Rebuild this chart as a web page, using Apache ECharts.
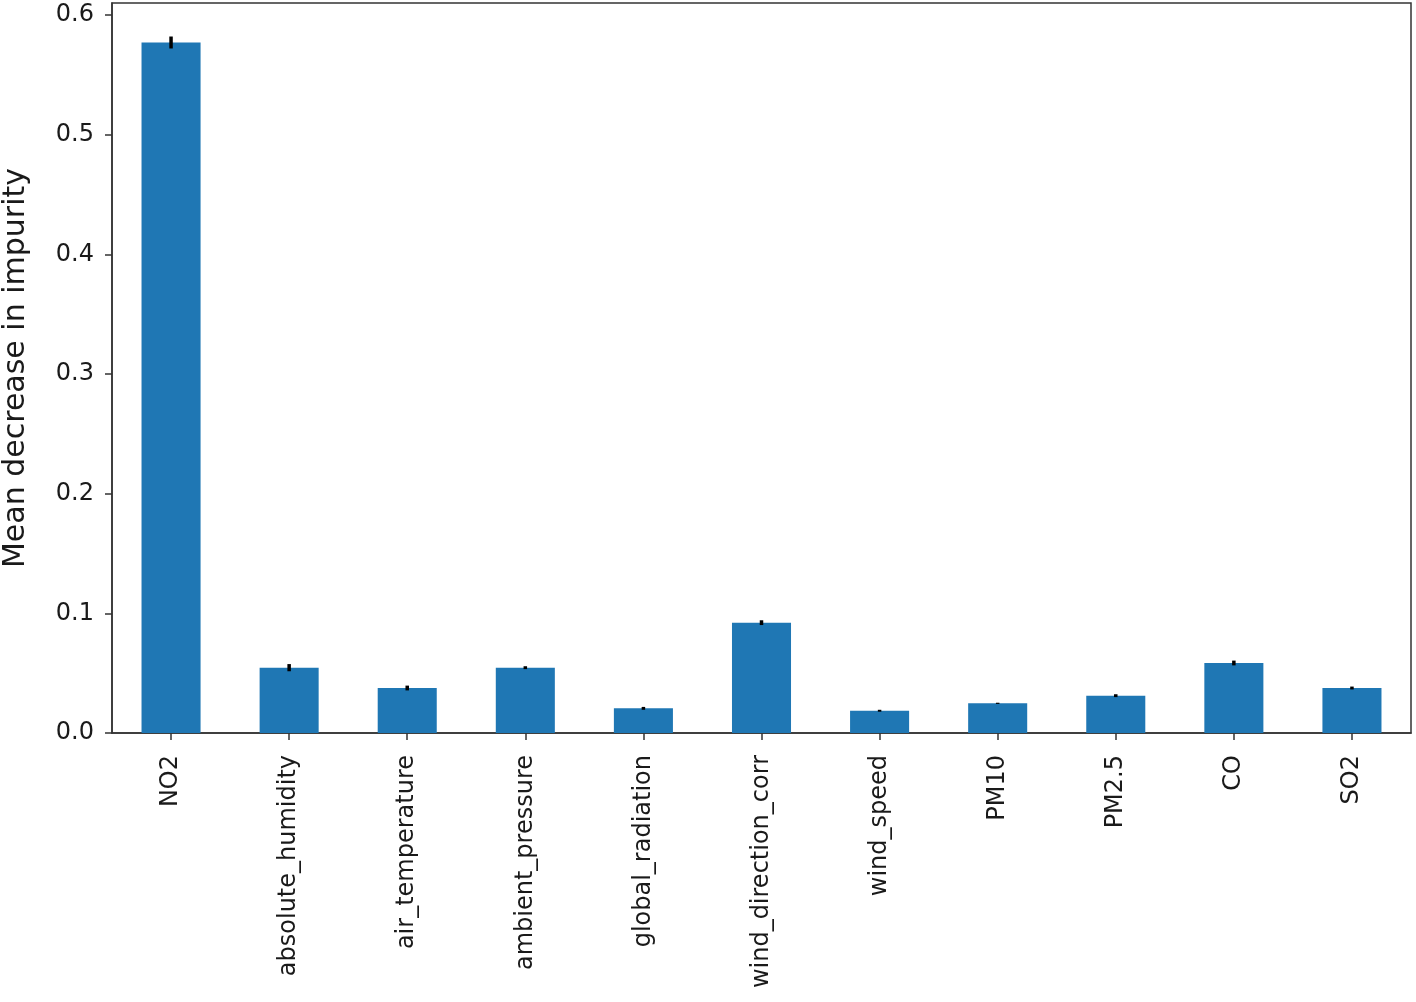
<!DOCTYPE html>
<html>
<head>
<meta charset="utf-8">
<script src="https://cdn.jsdelivr.net/npm/echarts@6/dist/echarts.min.js"></script>
<style>
html,body{margin:0;padding:0;background:#fff;}
#chart{width:1416px;height:1002px;}
</style>
</head>
<body>
<div id="chart"></div>
<script>
const categories = ["NO2","absolute_humidity","air_temperature","ambient_pressure","global_radiation","wind_direction_corr","wind_speed","PM10","PM2.5","CO","SO2"];
const importances = [0.577, 0.0546, 0.0376, 0.0546, 0.0206, 0.0922, 0.0186, 0.0248, 0.0312, 0.0585, 0.0376];
const stdErrors = [0.005, 0.003, 0.002, 0.0012, 0.0012, 0.002, 0.0008, 0.0005, 0.0012, 0.002, 0.0012];
const yTicks = [0.0, 0.1, 0.2, 0.3, 0.4, 0.5, 0.6];
const yLabel = "Mean decrease in impurity";

const chart = echarts.init(document.getElementById('chart'), null, {renderer:'canvas'});
const font = "DejaVu Sans";
const errData = categories.map((c, i) => [i, importances[i], stdErrors[i]]);

chart.setOption({
  animation: false,
  backgroundColor: '#fff',
  grid: {left: 112, right: 5, top: 3, bottom: 269, show: true, borderColor: '#333', borderWidth: 1.5, backgroundColor: 'transparent', containLabel: false, outerBoundsMode: 'none'},
  xAxis: {
    type: 'category',
    data: categories,
    axisLine: {show: true, lineStyle: {color: '#333', width: 1.5}},
    axisTick: {show: true, alignWithLabel: true, length: 7, lineStyle: {color: '#333', width: 1.5}},
    axisLabel: {rotate: 90, margin: 22, color: '#1a1a1a', fontFamily: font, fontSize: 24, interval: 0},
    splitLine: {show: false}
  },
  yAxis: {
    type: 'value',
    min: 0, max: 0.61, interval: 0.1,
    name: yLabel,
    nameLocation: 'middle',
    nameRotate: 90,
    nameGap: 81,
    nameTextStyle: {color: '#1a1a1a', fontFamily: font, fontSize: 30},
    axisLine: {show: true, lineStyle: {color: '#333', width: 1.5}},
    axisTick: {show: true, length: 7, lineStyle: {color: '#333', width: 1.5},
      customValues: yTicks},
    axisLabel: {margin: 18, color: '#1a1a1a', fontFamily: font, fontSize: 24,
      customValues: yTicks,
      formatter: v => v.toFixed(1)},
    splitLine: {show: false}
  },
  series: [
    {
      type: 'bar',
      data: importances,
      barWidth: '50%',
      itemStyle: {color: '#1f77b4'}
    },
    {
      type: 'custom',
      data: errData,
      encode: {x: 0, y: 1},
      z: 5,
      renderItem: function (params, api) {
        const i = api.value(0), v = api.value(1), e = api.value(2);
        const lo = api.coord([i, v - e]);
        const hi = api.coord([i, v + e]);
        return {
          type: 'line',
          shape: {x1: lo[0], y1: lo[1], x2: hi[0], y2: hi[1]},
          style: {stroke: '#000', lineWidth: 3.5}
        };
      }
    }
  ]
});
</script>
</body>
</html>
